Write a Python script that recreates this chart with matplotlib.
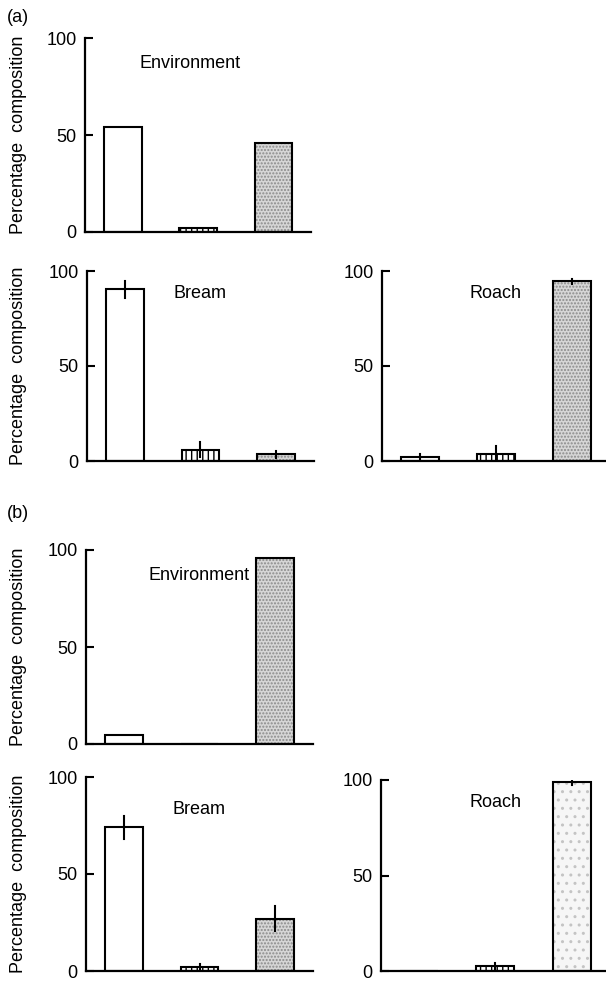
import matplotlib
matplotlib.use("Agg")
import matplotlib.pyplot as plt

plt.rcParams['font.family'] = ['Liberation Sans', 'DejaVu Sans']

# ---- data ----
categories = ["Prey type 1", "Prey type 2", "Prey type 3"]
yticks = [0, 50, 100]

env_a = [54, 2, 46]
bream_a = [90.5, 6, 3.5]
bream_a_err = [4.5, 4, 2]
roach_a = [2, 3.5, 94.5]
roach_a_err = [1.5, 4.5, 1.5]

env_b = [4.5, 0, 96]
bream_b = [74, 2, 27]
bream_b_err = [6, 1.5, 6.5]
roach_b = [0, 2.5, 99]
roach_b_err = [0, 1.5, 1.5]

W, H = 606, 981
fig = plt.figure(figsize=(W / 100, H / 100), dpi=100)


def make_ax(left, y0, y100, right):
    return fig.add_axes([left / W, (H - y0) / H, (right - left) / W, (y0 - y100) / H])


def draw(ax, vals, errs, title, tx, ty, light_last=False, xmax=2.5):
    x = list(range(len(categories)))
    # bar 1: white
    ax.bar(x[0], vals[0], width=0.5, facecolor='white', edgecolor='black', linewidth=1.5, zorder=2)
    # bar 2: vertical hatch
    ax.bar(x[1], vals[1], width=0.5, facecolor='white', edgecolor='black', linewidth=0, hatch='|||', zorder=2)
    ax.bar(x[1], vals[1], width=0.5, facecolor='none', edgecolor='black', linewidth=1.5, zorder=3)
    # bar 3: stippled grey
    if light_last:
        ax.bar(x[2], vals[2], width=0.5, facecolor='#f6f6f6', edgecolor='#c4c4c4', linewidth=0, hatch='..', zorder=2)
    else:
        ax.bar(x[2], vals[2], width=0.5, facecolor='#d6d6d6', edgecolor='#8a8a8a', linewidth=0, hatch='.....', zorder=2)
    ax.bar(x[2], vals[2], width=0.5, facecolor='none', edgecolor='black', linewidth=1.5, zorder=3)
    if errs is not None:
        for xi, v, e in zip(x, vals, errs):
            if e > 0:
                ax.plot([xi, xi], [v - e, v + e], color='black', linewidth=1.5, zorder=4)
    ax.set_xlim(-0.5, xmax)
    ax.set_ylim(0, 100)
    ax.set_yticks(yticks)
    ax.set_xticks([])
    for s in ['top', 'right']:
        ax.spines[s].set_visible(False)
    for s in ['left', 'bottom']:
        ax.spines[s].set_linewidth(1.6)
    ax.tick_params(axis='y', direction='in', length=6, width=1.5, labelsize=13, pad=6)
    ax.text(tx, ty, title, fontsize=13, ha='center', va='center')
    ax.set_facecolor('none')


def ylabel(ax, left):
    ax.set_ylabel("Percentage  composition", fontsize=13)
    ax.yaxis.set_label_coords((27 - left) / ax.get_position().width / W, 0.5)


ax1 = make_ax(85, 232, 38, 311)
draw(ax1, env_a, None, "Environment", 0.9, 87)
ylabel(ax1, 85)

ax2 = make_ax(87, 461, 271, 314)
draw(ax2, bream_a, bream_a_err, "Bream", 0.99, 88)
ylabel(ax2, 87)

ax3 = make_ax(382, 461, 271, 606)
draw(ax3, roach_a, roach_a_err, "Roach", 1.0, 88, xmax=2.45)

ax4 = make_ax(86, 744, 550, 313)
draw(ax4, env_b, None, "Environment", 1.0, 87)
ylabel(ax4, 86)

ax5 = make_ax(86, 971, 777, 313)
draw(ax5, bream_b, bream_b_err, "Bream", 0.99, 83)
ylabel(ax5, 86)

ax6 = make_ax(381, 971, 780, 606)
draw(ax6, roach_b, roach_b_err, "Roach", 1.0, 88, light_last=True, xmax=2.45)

fig.text(7 / W, 1 - 17 / H, "(a)", fontsize=13, ha='left', va='center')
fig.text(7 / W, 1 - 513 / H, "(b)", fontsize=13, ha='left', va='center')

fig.savefig("out.png", dpi=100)
